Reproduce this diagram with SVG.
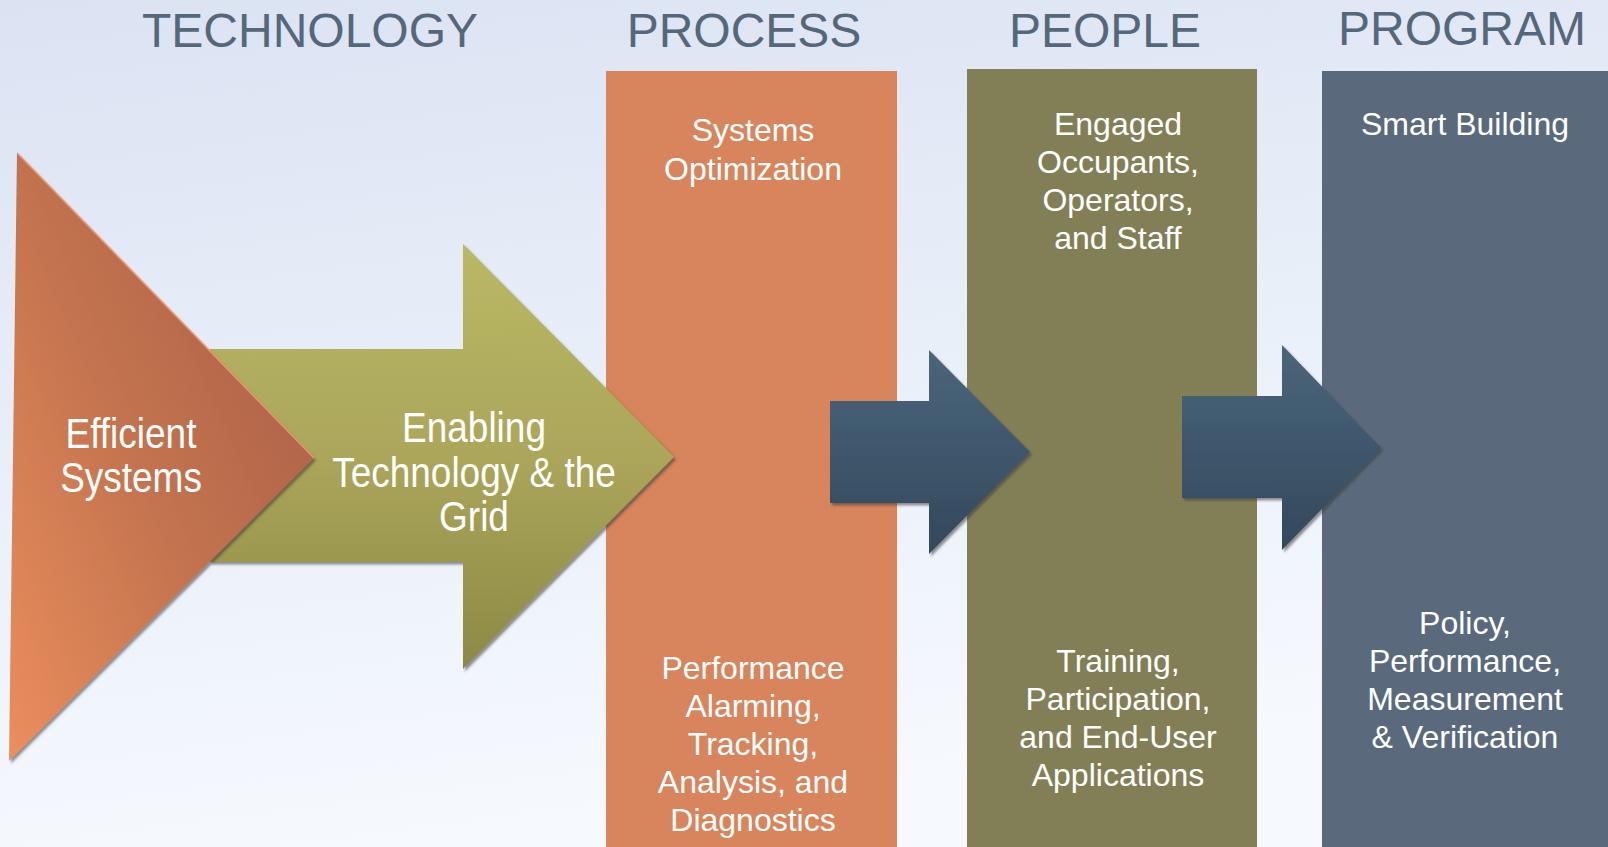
<svg xmlns="http://www.w3.org/2000/svg" width="1608" height="847" viewBox="0 0 1608 847">
  <defs>
    <linearGradient id="bg" x1="0" y1="0" x2="0.25" y2="1">
      <stop offset="0" stop-color="#dbe2f2"/>
      <stop offset="0.55" stop-color="#eaf0f9"/>
      <stop offset="1" stop-color="#f6f9fe"/>
    </linearGradient>
    <linearGradient id="triFill" x1="0.85" y1="0.25" x2="0" y2="1">
      <stop offset="0" stop-color="#b0644a"/>
      <stop offset="0.45" stop-color="#c4744f"/>
      <stop offset="1" stop-color="#ec8e5e"/>
    </linearGradient>
    <linearGradient id="greenFill" x1="0" y1="0" x2="0" y2="1">
      <stop offset="0" stop-color="#bab865"/>
      <stop offset="0.5" stop-color="#aba65a"/>
      <stop offset="1" stop-color="#8c8946"/>
    </linearGradient>
    <linearGradient id="blueFill" x1="0" y1="0" x2="0" y2="1">
      <stop offset="0" stop-color="#4b657b"/>
      <stop offset="1" stop-color="#33485c"/>
    </linearGradient>
    <filter id="shadow" x="-5%" y="-5%" width="115%" height="115%">
      <feDropShadow dx="2" dy="2.5" stdDeviation="1" flood-color="#3a3a3a" flood-opacity="0.55"/>
    </filter>
    <style>
      .title { font-family: "Liberation Sans", Arial, sans-serif; font-size: 48px; fill: #55687b; text-anchor: middle; }
      .panelText { font-family: "Liberation Sans", Arial, sans-serif; font-size: 32px; fill: #ffffff; text-anchor: middle; }
      .shapeText { font-family: "Liberation Sans", Arial, sans-serif; font-size: 43px; fill: #ffffff; text-anchor: middle; }
    </style>
  </defs>

  <!-- backdrop -->
  <rect x="0" y="0" width="1608" height="847" fill="url(#bg)"/>

  <!-- column headings -->
  <g id="headings">
    <text class="title" x="310" y="47">TECHNOLOGY</text>
    <text class="title" x="744" y="47">PROCESS</text>
    <text class="title" x="1105" y="47">PEOPLE</text>
    <text class="title" x="1462" y="45">PROGRAM</text>
  </g>

  <!-- PROCESS column -->
  <g id="process">
    <rect x="606" y="71" width="291" height="776" fill="#d8845c"/>
    <text class="panelText" x="753" y="141">Systems</text>
    <text class="panelText" x="753" y="180">Optimization</text>
    <text class="panelText" x="753" y="679">Performance</text>
    <text class="panelText" x="753" y="717">Alarming,</text>
    <text class="panelText" x="753" y="755">Tracking,</text>
    <text class="panelText" x="753" y="793">Analysis, and</text>
    <text class="panelText" x="753" y="831">Diagnostics</text>
  </g>

  <!-- PEOPLE column -->
  <g id="people">
    <rect x="967" y="69" width="290" height="778" fill="#827f56"/>
    <text class="panelText" x="1118" y="135">Engaged</text>
    <text class="panelText" x="1118" y="173">Occupants,</text>
    <text class="panelText" x="1118" y="211">Operators,</text>
    <text class="panelText" x="1118" y="249">and Staff</text>
    <text class="panelText" x="1118" y="672">Training,</text>
    <text class="panelText" x="1118" y="710">Participation,</text>
    <text class="panelText" x="1118" y="748">and End-User</text>
    <text class="panelText" x="1118" y="786">Applications</text>
  </g>

  <!-- PROGRAM column -->
  <g id="program">
    <rect x="1322" y="71" width="286" height="776" fill="#5a6a7c"/>
    <text class="panelText" x="1465" y="135">Smart Building</text>
    <text class="panelText" x="1465" y="634">Policy,</text>
    <text class="panelText" x="1465" y="672">Performance,</text>
    <text class="panelText" x="1465" y="710">Measurement</text>
    <text class="panelText" x="1465" y="748">&amp; Verification</text>
  </g>

  <!-- enabling technology arrow -->
  <g id="enabling">
    <path d="M210,349 L463,349 L463,244 L674,457 L463,669 L463,562 L210,562 Z" fill="url(#greenFill)" filter="url(#shadow)"/>
    <g transform="translate(474,0) scale(0.86,1)">
      <text class="shapeText" x="0" y="442">Enabling</text>
      <text class="shapeText" x="0" y="487">Technology &amp; the</text>
      <text class="shapeText" x="0" y="531">Grid</text>
    </g>
  </g>

  <!-- efficient systems wedge -->
  <g id="efficient">
    <path d="M17,153 L314,458 L9,761 Z" fill="url(#triFill)" filter="url(#shadow)"/>
    <path d="M17,153 L314,458" fill="none" stroke="#e9956c" stroke-width="1.5"/>
    <g transform="translate(131,0) scale(0.86,1)">
      <text class="shapeText" x="0" y="448">Efficient</text>
      <text class="shapeText" x="0" y="492">Systems</text>
    </g>
  </g>

  <!-- flow arrows between columns -->
  <g id="connectors" fill="url(#blueFill)" filter="url(#shadow)">
    <path d="M830,401 L929,401 L929,350 L1030,452 L929,554 L929,503 L830,503 Z"/>
    <path d="M1182,396 L1282,396 L1282,345 L1381,448 L1282,550 L1282,498 L1182,498 Z"/>
  </g>
</svg>
